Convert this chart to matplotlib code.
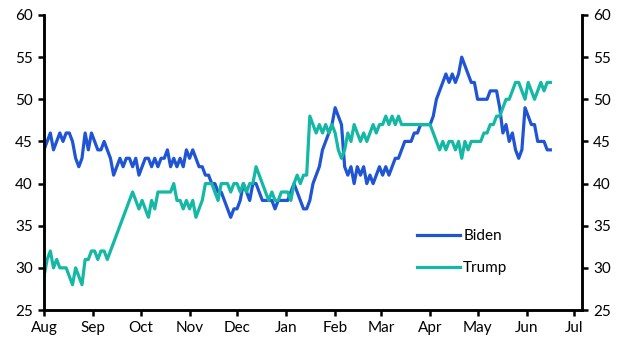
import matplotlib as mpl
import matplotlib.pyplot as plt
import matplotlib.dates as mdates
import numpy as np
import pandas as pd

mpl.rcParams["font.family"] = ["Lato", "DejaVu Sans"]

# poll values, one every 2 days starting 1 Aug 2019
biden_aug = [44, 45, 46, 44, 45, 46, 45, 46, 46, 45, 43, 42, 43, 46, 44, 46]
biden_sep = [45, 44, 44, 45, 44, 43, 41, 42, 43, 42, 43, 43, 42, 43, 41]
biden_oct = [42, 43, 43, 42, 43, 42, 43, 43, 44, 42, 43, 42, 43, 42, 44]
biden_nov = [43, 44, 43, 42, 42, 41, 41, 40, 40, 39, 39, 38, 37, 36, 37]
biden_dec = [37, 38, 40, 39, 38, 40, 40, 39, 38, 38, 38, 38, 37, 38, 38, 38]
biden_jan = [38, 39, 40, 39, 38, 37, 37, 38, 40, 41, 42, 44, 45, 46, 47]
biden_feb = [49, 48, 47, 42, 41, 42, 40, 42, 41, 42, 40, 41, 40, 41, 42]
biden_mar = [41, 42, 41, 42, 43, 43, 44, 45, 45, 45, 46, 46, 47, 47, 47]
biden_apr = [47, 48, 50, 51, 52, 53, 52, 53, 52, 53, 55, 54, 53, 52, 52]
biden_may = [50, 50, 50, 50, 51, 51, 51, 49, 46, 47, 45, 46, 44, 43, 44, 49]
biden_jun = [48, 47, 47, 45, 45, 45, 44, 44]

trump_aug = [29, 31, 32, 30, 31, 30, 30, 30, 29, 28, 30, 29, 28, 31, 31, 32]
trump_sep = [32, 31, 32, 32, 31, 32, 33, 34, 35, 36, 37, 38, 39, 38, 37]
trump_oct = [38, 37, 36, 38, 37, 39, 39, 39, 39, 39, 40, 38, 38, 37, 38]
trump_nov = [37, 38, 36, 37, 38, 40, 40, 40, 39, 38, 40, 40, 40, 39, 40]
trump_dec = [40, 39, 40, 39, 40, 40, 42, 41, 40, 39, 38, 39, 38, 38, 39, 39]
trump_jan = [39, 38, 40, 41, 40, 41, 41, 48, 47, 46, 47, 46, 47, 46, 47]
trump_feb = [46, 44, 43, 44, 46, 45, 47, 46, 45, 46, 45, 46, 47, 46, 47]
trump_mar = [47, 48, 47, 48, 47, 48, 47, 47, 47, 47, 47, 47, 47, 47, 47]
trump_apr = [47, 46, 45, 44, 45, 44, 45, 45, 44, 45, 43, 45, 44, 45, 45]
trump_may = [45, 45, 46, 46, 47, 47, 48, 48, 49, 50, 50, 51, 52, 52, 51, 50]
trump_jun = [52, 51, 50, 51, 52, 51, 52, 52]

biden = (biden_aug + biden_sep + biden_oct + biden_nov + biden_dec + biden_jan
         + biden_feb + biden_mar + biden_apr + biden_may + biden_jun)
trump = (trump_aug + trump_sep + trump_oct + trump_nov + trump_dec + trump_jan
         + trump_feb + trump_mar + trump_apr + trump_may + trump_jun)
dates = pd.date_range("2019-08-01", periods=len(biden), freq="2D")

y_ticks = [25, 30, 35, 40, 45, 50, 55, 60]

blue = "#1f55d4"
teal = "#14b8a4"

fig = plt.figure(figsize=(6.3, 3.55), dpi=100)
ax = fig.add_axes([44 / 630, 45 / 355, 538 / 630, 295 / 355])

ax.plot(dates, biden, color=blue, linewidth=2.3, label="Biden")
ax.plot(dates, trump, color=teal, linewidth=2.3, label="Trump")

ax.set_xlim(pd.Timestamp("2019-08-01"), pd.Timestamp("2020-07-06"))
ax.set_ylim(25, 60)
ax.set_yticks(y_ticks)
ax.xaxis.set_major_locator(mdates.MonthLocator())
ax.xaxis.set_major_formatter(mdates.DateFormatter("%b"))

ax2 = ax.twinx()
ax2.set_ylim(25, 60)
ax2.set_yticks(y_ticks)

for a in (ax, ax2):
    a.spines["top"].set_visible(False)
    for side in ("left", "right", "bottom"):
        a.spines[side].set_linewidth(1.8)
    a.tick_params(direction="out", length=4, width=1.8, labelsize=11, pad=4)

ax.legend(loc="upper left", bbox_to_anchor=(0.694, 0.273), frameon=False,
          fontsize=11, handlelength=2.8, handletextpad=0.2, labelspacing=1.15,
          borderpad=0, borderaxespad=0)

fig.savefig("out.png", dpi=100)
plt.close("all")
